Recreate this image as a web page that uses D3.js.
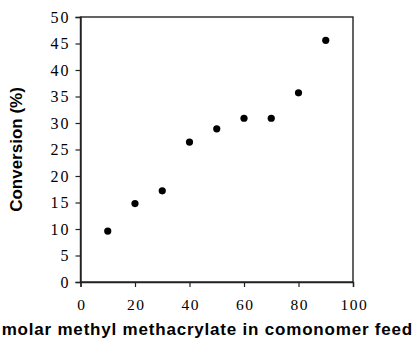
<!DOCTYPE html>
<html><head><meta charset="utf-8">
<script src="https://cdn.jsdelivr.net/npm/d3@7"></script>
<style>body{margin:0;background:#fff}svg{display:block}</style>
</head><body>
<svg id="c" width="417" height="348"></svg>
<script>
const feedMMA = [10, 20, 30, 40, 50, 60, 70, 80, 90];
const conversion = [9.6, 14.8, 17.2, 26.4, 28.9, 30.9, 30.9, 35.7, 45.6];
const xTicks = [0, 20, 40, 60, 80, 100];
const yTicks = [0, 5, 10, 15, 20, 25, 30, 35, 40, 45, 50];
const xTitle = "molar methyl methacrylate in comonomer feed";
const yTitle = "Conversion (%)";

const svg = d3.select("#c");
const L = 80.5, R = 353, T = 17, B = 282;
const x = d3.scaleLinear().domain([0, 100]).range([L, R]);
const y = d3.scaleLinear().domain([0, 50]).range([B, T]);

const serif = "'Liberation Serif','Times New Roman',serif";
const sans = "'Liberation Sans',Arial,sans-serif";

svg.append("rect").attr("x", L).attr("y", T).attr("width", R - L).attr("height", B - T)
  .attr("fill", "none").attr("stroke", "#222").attr("stroke-width", 1.4);

const xa = svg.append("g").attr("transform", `translate(0,${B})`)
  .call(d3.axisBottom(x).tickValues(xTicks).tickSize(5).tickPadding(12).tickFormat(d3.format("d")));
const ya = svg.append("g").attr("transform", `translate(${L},0)`)
  .call(d3.axisLeft(y).tickValues(yTicks).tickSize(5).tickPadding(5).tickFormat(d3.format("d")));
[xa, ya].forEach(a => {
  a.select(".domain").attr("stroke", "#222").attr("stroke-width", 1.4);
  a.selectAll(".tick line").attr("stroke", "#222").attr("stroke-width", 1.2);
  a.selectAll(".tick text").attr("fill", "#000").style("font-family", serif);
});
xa.selectAll(".tick text").attr("y", 28).attr("dy", 0).attr("dx", 0.75)
  .style("font-size", "15.5px").style("letter-spacing", "1.5px");
ya.selectAll(".tick text").style("font-size", "16px").style("letter-spacing", "2px");

svg.append("g").selectAll("circle").data(feedMMA).join("circle")
  .attr("cx", d => x(d)).attr("cy", (d, i) => y(conversion[i])).attr("r", 3.6).attr("fill", "#000");

svg.append("text").attr("x", 413).attr("y", 335).attr("text-anchor", "end")
  .style("font-family", sans).style("font-weight", "bold").style("font-size", "17px")
  .style("letter-spacing", "0.8px").text(xTitle);
svg.append("text").attr("transform", `translate(22,${(T + B) / 2}) rotate(-90)`).attr("text-anchor", "middle")
  .style("font-family", sans).style("font-weight", "bold").style("font-size", "17px").text(yTitle);
</script>
</body></html>
